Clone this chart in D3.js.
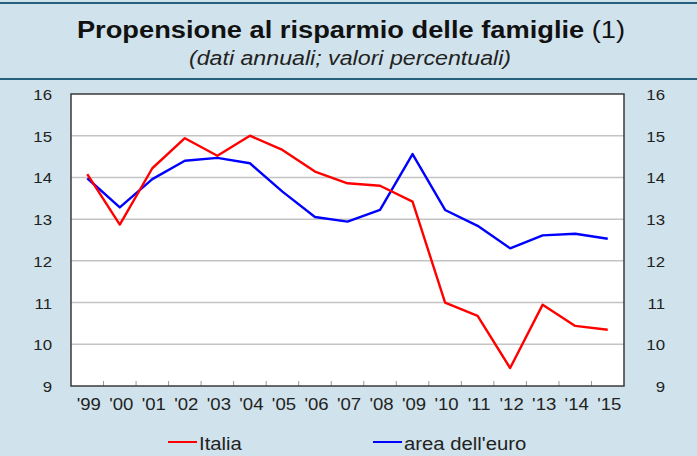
<!DOCTYPE html>
<html>
<head>
<meta charset="utf-8">
<script src="https://cdn.jsdelivr.net/npm/d3@7"></script>
<style>
  body { margin: 0; background: #d0e2ec; }
  svg { display: block; font-family: "Liberation Sans", Arial, sans-serif; }
  .lbl { fill: #222; }
</style>
</head>
<body>
<div id="chart"></div>
<script>
// years on the x axis
const years = ["'99", "'00", "'01", "'02", "'03", "'04", "'05", "'06", "'07", "'08",
               "'09", "'10", "'11", "'12", "'13", "'14", "'15"];
// savings ratio, Italy
const italia = [14.08, 12.87, 14.22, 14.94, 14.52, 15.0, 14.66, 14.14, 13.86, 13.8,
                13.42, 11.0, 10.68, 9.43, 10.95, 10.44, 10.35];
// savings ratio, euro area
const euro = [13.98, 13.28, 13.96, 14.4, 14.47, 14.34, 13.66, 13.05, 12.94, 13.22,
              14.56, 13.22, 12.84, 12.3, 12.61, 12.65, 12.53];
const yTicks = [9, 10, 11, 12, 13, 14, 15, 16];

const W = 697, H = 456;
const plot = {left: 71, top: 94, right: 624, bottom: 386};
const stretch = 1.16;   // the original's text is a bit wide

const svg = d3.select("#chart").append("svg")
    .attr("width", W)
    .attr("height", H);

// text placed at (x, y) and stretched horizontally
function wideText(sel, x, y) {
    return sel.attr("transform", "translate(" + x + "," + y + ") scale(" + stretch + ",1)");
}

// header band lines
svg.append("line").attr("x1", 0).attr("x2", W).attr("y1", 3).attr("y2", 3)
    .attr("stroke", "#24607e").attr("stroke-width", 2);
svg.append("line").attr("x1", 0).attr("x2", W).attr("y1", 79).attr("y2", 79)
    .attr("stroke", "#24607e").attr("stroke-width", 2);

wideText(svg.append("text"), 351, 38)
    .attr("text-anchor", "middle")
    .style("font-size", "23.5px").style("font-weight", "bold").style("fill", "#111")
    .text("Propensione al risparmio delle famiglie ")
    .append("tspan").style("font-weight", "normal").text("(1)");

wideText(svg.append("text"), 350, 65)
    .attr("text-anchor", "middle")
    .style("font-size", "20px").style("font-style", "italic").style("fill", "#222")
    .text("(dati annuali; valori percentuali)");

const x = d3.scalePoint()
    .domain(years)
    .range([plot.left, plot.right])
    .padding(0.5);
const step = x.step();

const y = d3.scaleLinear()
    .domain([9, 16])
    .range([plot.bottom, plot.top]);

// plot background
svg.append("rect")
    .attr("x", plot.left).attr("y", plot.top)
    .attr("width", plot.right - plot.left).attr("height", plot.bottom - plot.top)
    .attr("fill", "#fff");

// horizontal grid
svg.selectAll(".grid")
    .data(yTicks.filter(d => d > 9 && d < 16))
    .enter()
    .append("line")
    .attr("class", "grid")
    .attr("x1", plot.left).attr("x2", plot.right)
    .attr("y1", d => y(d)).attr("y2", d => y(d))
    .attr("stroke", "#c4c4c4").attr("stroke-width", 1.5);

// inner ticks between years
svg.selectAll(".xtick")
    .data(years.slice(1))
    .enter()
    .append("line")
    .attr("class", "xtick")
    .attr("x1", d => x(d) - step / 2).attr("x2", d => x(d) - step / 2)
    .attr("y1", plot.bottom).attr("y2", plot.bottom - 5)
    .attr("stroke", "#999").attr("stroke-width", 1);

// lines
const line = d3.line()
    .x((d, i) => x(years[i]))
    .y(d => y(d));

svg.append("path").datum(euro)
    .attr("d", line)
    .attr("fill", "none").attr("stroke", "#0000ff").attr("stroke-width", 2.4)
    .attr("stroke-linejoin", "round");
svg.append("path").datum(italia)
    .attr("d", line)
    .attr("fill", "none").attr("stroke", "#ff0000").attr("stroke-width", 2.4)
    .attr("stroke-linejoin", "round");

// frame
svg.append("rect")
    .attr("x", plot.left).attr("y", plot.top)
    .attr("width", plot.right - plot.left).attr("height", plot.bottom - plot.top)
    .attr("fill", "none").attr("stroke", "#3a3a3a").attr("stroke-width", 1.5);

// y labels, both sides
svg.selectAll(".ylab-l")
    .data(yTicks)
    .enter()
    .append("text")
    .attr("class", "lbl")
    .style("font-size", "14.5px")
    .attr("text-anchor", "end")
    .each(function(d) { wideText(d3.select(this), 52, y(d) + 6); })
    .text(d => d);
svg.selectAll(".ylab-r")
    .data(yTicks)
    .enter()
    .append("text")
    .attr("class", "lbl")
    .style("font-size", "14.5px")
    .attr("text-anchor", "end")
    .each(function(d) { wideText(d3.select(this), 665, y(d) + 6); })
    .text(d => d);

// x labels
svg.selectAll(".xlab")
    .data(years)
    .enter()
    .append("text")
    .attr("class", "lbl")
    .style("font-size", "16px")
    .attr("text-anchor", "middle")
    .each(function(d) { wideText(d3.select(this), x(d) + 1.5, 410); })
    .text(d => d);

// legend
const legend = [
    {name: "Italia", color: "#ff0000", x: 168},
    {name: "area dell'euro", color: "#0000ff", x: 373}
];
const lg = svg.selectAll(".legend")
    .data(legend)
    .enter()
    .append("g")
    .attr("transform", d => "translate(" + d.x + ",442)");
lg.append("line")
    .attr("x1", 0).attr("x2", 29).attr("y1", 0).attr("y2", 0)
    .attr("stroke", d => d.color).attr("stroke-width", 2);
lg.append("text")
    .attr("class", "lbl")
    .style("font-size", "17.5px")
    .each(function() { wideText(d3.select(this), 31, 8); })
    .text(d => d.name);
</script>
</body>
</html>
